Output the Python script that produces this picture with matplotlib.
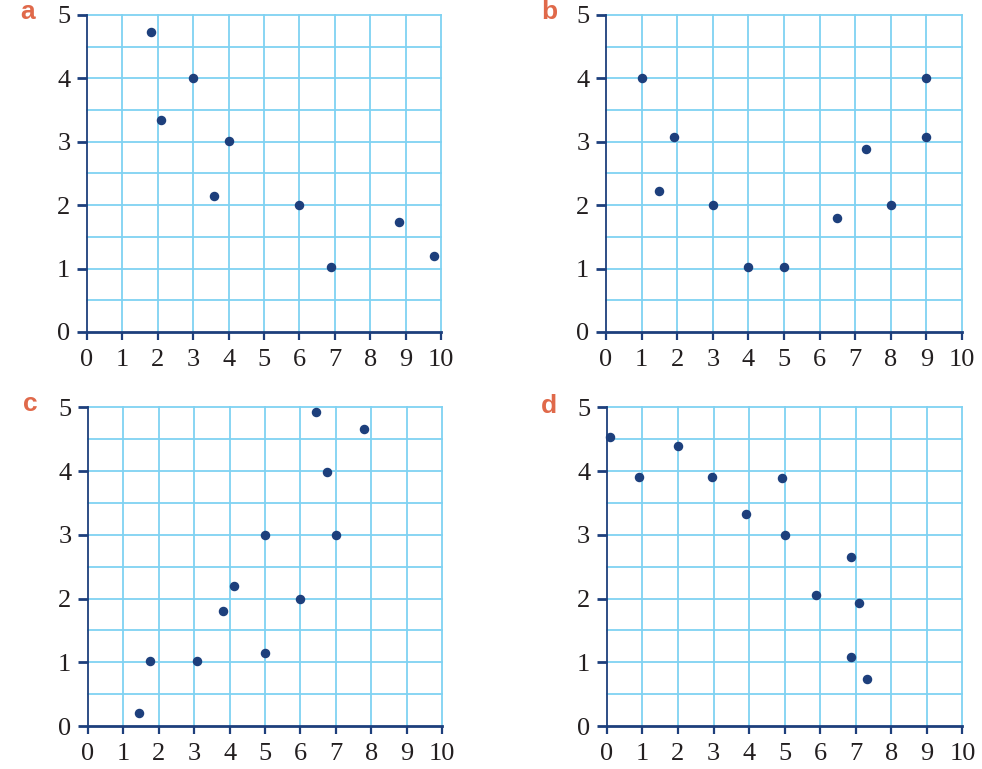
import matplotlib.pyplot as plt
import numpy as np

plt.rcParams['font.family'] = ['Liberation Serif']

# --- Data ---
a_x = [1.8, 2.1, 3.0, 3.6, 4.0, 6.0, 6.9, 8.8, 9.8]
a_y = [4.73, 3.35, 4.0, 2.15, 3.02, 2.0, 1.02, 1.73, 1.2]

b_x = [1.0, 1.5, 1.9, 3.0, 4.0, 5.0, 6.5, 7.3, 8.0, 9.0, 9.0]
b_y = [4.0, 2.22, 3.08, 2.0, 1.02, 1.02, 1.8, 2.88, 2.0, 4.0, 3.08]

c_x = [1.45, 1.75, 3.08, 3.8, 4.12, 5.0, 5.0, 6.0, 6.45, 6.75, 7.0, 7.8]
c_y = [0.2, 1.02, 1.02, 1.8, 2.2, 3.0, 1.15, 2.0, 4.93, 3.98, 3.0, 4.66]

d_x = [0.1, 0.9, 2.0, 2.95, 3.9, 4.92, 5.0, 5.87, 6.88, 7.1, 6.88, 7.33]
d_y = [4.53, 3.91, 4.4, 3.91, 3.33, 3.89, 3.0, 2.06, 2.66, 1.93, 1.08, 0.74]

panels = [('a', a_x, a_y), ('b', b_x, b_y), ('c', c_x, c_y), ('d', d_x, d_y)]

navy = '#1d3f7c'
grid_blue = '#7fd2f2'
label_orange = '#e0694a'

fig = plt.figure(figsize=(9.82, 7.69), dpi=100)

# axes positions in figure fractions
positions = [
    [0.0886, 0.5683, 0.3605, 0.4122],
    [0.6171, 0.5683, 0.3625, 0.4122],
    [0.0896, 0.0559, 0.3605, 0.4142],
    [0.6180, 0.0559, 0.3620, 0.4142],
]
label_xy = [(0.021, 0.984), (0.551, 0.984), (0.023, 0.474), (0.551, 0.472)]

for (name, xs, ys), pos, lxy in zip(panels, positions, label_xy):
    ax = fig.add_axes(pos)
    ax.set_xlim(0, 10)
    ax.set_ylim(0, 5)

    # light blue grid: every 1 in x, every 0.5 in y
    for gx in np.arange(1, 11, 1):
        ax.axvline(gx, color=grid_blue, lw=1.3, zorder=1, clip_on=False)
    for gy in np.arange(0.5, 5.01, 0.5):
        ax.axhline(gy, color=grid_blue, lw=1.3, zorder=1, clip_on=False)

    ax.scatter(xs, ys, s=34, color=navy, zorder=3, clip_on=False)

    for side in ['top', 'right']:
        ax.spines[side].set_visible(False)
    ax.spines['left'].set_color(navy)
    ax.spines['left'].set_linewidth(1.3)
    ax.spines['bottom'].set_color(navy)
    ax.spines['bottom'].set_linewidth(2.0)
    ax.spines['left'].set_zorder(2)
    ax.spines['bottom'].set_zorder(2)

    ax.set_xticks(range(0, 11))
    ax.set_yticks(range(0, 6))
    ax.set_xticklabels([str(v) for v in range(0, 11)], fontsize=19,
                       family='Liberation Serif', color='#231f20')
    ax.set_yticklabels([str(v) for v in range(0, 6)], fontsize=19,
                       family='Liberation Serif', color='#231f20')
    ax.tick_params(axis='x', direction='out', length=6, width=1.6,
                   color=navy, pad=6)
    ax.tick_params(axis='y', direction='out', length=7, width=2.0,
                   color=navy, pad=5)

    fig.text(lxy[0], lxy[1], name, color=label_orange, fontsize=19,
             fontweight='heavy', family='Liberation Sans', ha='left', va='center')

plt.savefig('out.png', dpi=100)
